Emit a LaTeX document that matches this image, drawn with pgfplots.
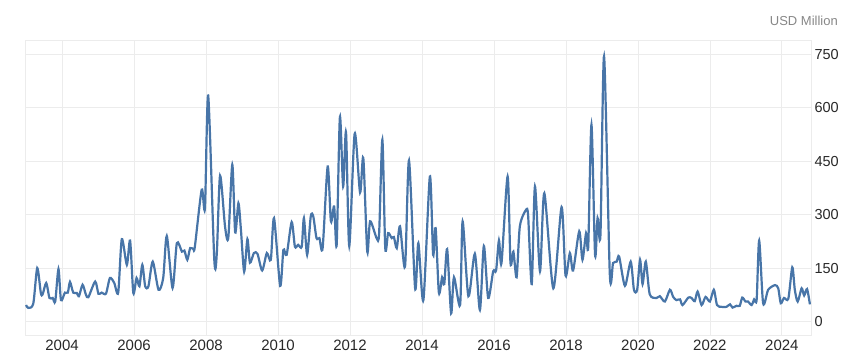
\documentclass[border=0pt]{standalone}
\usepackage{pgfplots}
\pgfplotsset{compat=1.18}
\usepackage{fontspec}
\setmainfont{Liberation Sans}
\definecolor{lineblue}{RGB}{72,117,168}
\definecolor{gridgray}{RGB}{236,236,236}
\definecolor{ticktext}{RGB}{40,40,40}
\definecolor{unitgray}{RGB}{135,135,135}
\begin{document}
\begin{tikzpicture}
\useasboundingbox (0pt,0pt) rectangle (849pt,362pt);
\begin{axis}[
  at={(25pt,27pt)}, anchor=south west,
  scale only axis, width=786pt, height=295pt,
  xmin=2002.97, xmax=2024.81, ymin=-38, ymax=790,
  xtick={2004,2006,...,2024}, ytick={0,150,...,750},
  /pgf/number format/assume math mode=true,
  xticklabel style={/pgf/number format/1000 sep={}, font=\fontsize{15}{17}\selectfont, text=ticktext, yshift=-1pt},
  yticklabel style={font=\fontsize{14.5}{16}\selectfont, text=ticktext},
  yticklabel pos=right,
  major tick length=0pt,
  grid=major,
  major grid style={draw=gridgray, line width=0.8pt},
  axis line style={draw=gridgray, line width=0.8pt},
]
\addplot[lineblue, line width=2.2pt, smooth, tension=0.45] coordinates {
(2003.00,46) (2003.06,38) (2003.20,50) (2003.31,150) (2003.41,80) (2003.46,76)
(2003.56,108) (2003.65,66) (2003.74,66) (2003.81,56) (2003.90,147) (2003.97,60)
(2004.08,81) (2004.16,81) (2004.22,111) (2004.31,81) (2004.41,80) (2004.47,71)
(2004.57,103) (2004.66,76) (2004.73,68) (2004.92,112) (2005.01,78) (2005.10,81)
(2005.22,78) (2005.33,122) (2005.45,108) (2005.56,81) (2005.66,231) (2005.80,159)
(2005.89,227) (2005.98,80) (2006.07,122) (2006.15,99) (2006.23,159) (2006.31,99)
(2006.40,99) (2006.52,168) (2006.68,89) (2006.81,122) (2006.91,240) (2007.07,94)
(2007.19,220) (2007.33,196) (2007.40,199) (2007.48,173) (2007.56,206) (2007.65,203)
(2007.69,210) (2007.88,370) (2007.97,318) (2008.06,634) (2008.23,173) (2008.30,192)
(2008.39,409) (2008.53,265) (2008.62,236) (2008.73,440) (2008.81,250) (2008.90,332)
(2008.97,257) (2009.06,140) (2009.15,231) (2009.22,165) (2009.33,192) (2009.43,190)
(2009.56,143) (2009.69,192) (2009.80,173) (2009.89,290) (2010.06,100) (2010.15,201)
(2010.24,187) (2010.38,279) (2010.47,210) (2010.56,215) (2010.66,210) (2010.72,290)
(2010.81,187) (2010.91,295) (2010.98,295) (2011.07,234) (2011.15,234) (2011.24,206)
(2011.38,435) (2011.47,281) (2011.56,323) (2011.63,215) (2011.72,574) (2011.81,379)
(2011.89,531) (2011.98,212) (2012.13,527) (2012.28,362) (2012.37,459) (2012.48,196)
(2012.56,281) (2012.74,234) (2012.81,248) (2012.90,510) (2012.98,206) (2013.06,248)
(2013.16,234) (2013.22,237) (2013.30,206) (2013.39,267) (2013.53,154) (2013.64,452)
(2013.81,93) (2013.90,220) (2014.04,60) (2014.22,407) (2014.31,187) (2014.38,262)
(2014.47,81) (2014.56,124) (2014.62,105) (2014.70,203) (2014.81,23) (2014.89,124)
(2015.06,46) (2015.13,281) (2015.29,71) (2015.47,190) (2015.61,32) (2015.72,212)
(2015.84,66) (2015.98,141) (2016.06,143) (2016.14,228) (2016.21,164) (2016.38,407)
(2016.46,164) (2016.54,196) (2016.63,124) (2016.72,267) (2016.89,313) (2016.95,297)
(2017.05,105) (2017.14,379) (2017.28,141) (2017.40,360) (2017.65,93) (2017.88,321)
(2017.99,129) (2018.11,192) (2018.20,143) (2018.37,253) (2018.46,173) (2018.56,248)
(2018.62,210) (2018.71,552) (2018.81,187) (2018.88,290) (2018.96,244) (2019.06,744)
(2019.22,132) (2019.31,164) (2019.41,168) (2019.48,182) (2019.64,100) (2019.80,168)
(2019.89,89) (2019.98,89) (2020.06,173) (2020.13,105) (2020.22,168) (2020.33,76)
(2020.52,66) (2020.61,71) (2020.75,56) (2020.89,89) (2020.98,69) (2021.07,60)
(2021.17,62) (2021.24,46) (2021.40,67) (2021.49,66) (2021.58,57) (2021.66,84)
(2021.77,46) (2021.88,69) (2022.00,56) (2022.11,89) (2022.20,46) (2022.33,41)
(2022.46,41) (2022.56,48) (2022.63,39) (2022.74,44) (2022.83,44) (2022.90,67)
(2022.99,56) (2023.06,56) (2023.16,46) (2023.23,62) (2023.30,62) (2023.37,227)
(2023.48,51) (2023.62,89) (2023.81,102) (2023.90,93) (2023.97,51) (2024.06,66)
(2024.18,64) (2024.29,152) (2024.36,89) (2024.44,56) (2024.55,93) (2024.62,73)
(2024.70,91) (2024.78,48)
};
\end{axis}
\node[anchor=base east, font=\fontsize{13}{15}\selectfont, text=unitgray, inner sep=0pt] at (838pt,336pt) {USD Million};
\end{tikzpicture}
\end{document}
